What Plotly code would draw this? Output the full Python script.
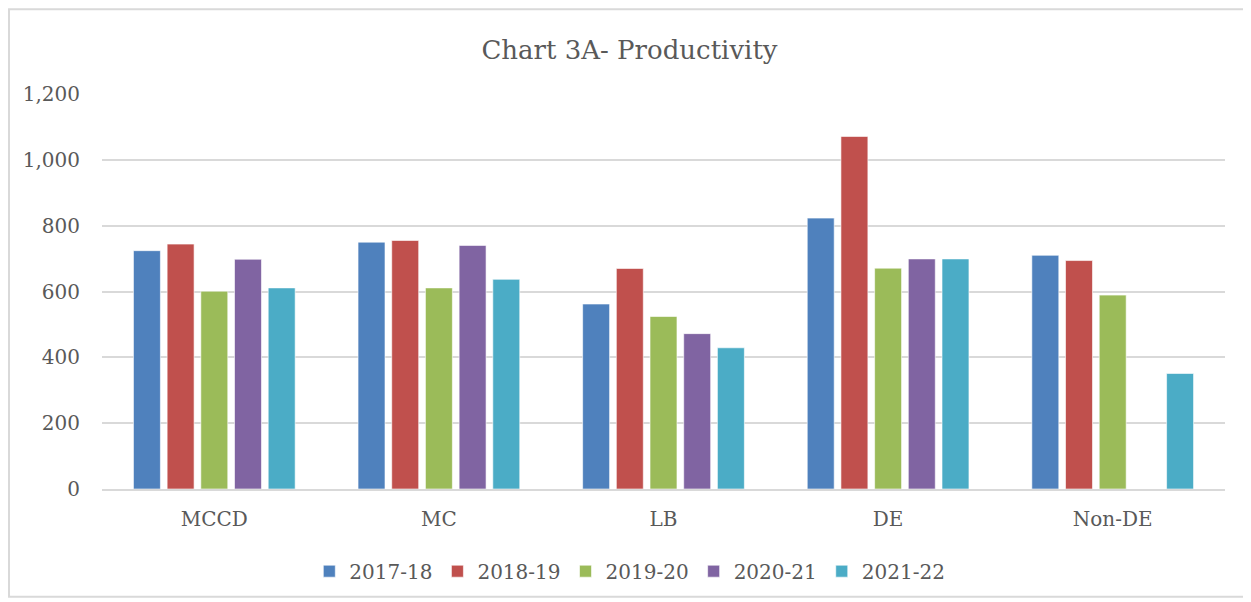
import plotly.graph_objs as go

categories = ['MCCD', 'MC', 'LB', 'DE', 'Non-DE']
years = ['2017-18', '2018-19', '2019-20', '2020-21', '2021-22']

v_2017_18 = [724, 750, 562, 823, 710]
v_2018_19 = [744, 755, 670, 1071, 694]
v_2019_20 = [601, 611, 524, 671, 589]
v_2020_21 = [698, 740, 472, 699, None]
v_2021_22 = [611, 637, 429, 699, 351]

series = [v_2017_18, v_2018_19, v_2019_20, v_2020_21, v_2021_22]
colors = ['#4F81BD', '#C0504D', '#9BBB59', '#8064A2', '#4BACC6']

grey = '#595959'
font_family = 'DejaVu Serif, Liberation Serif, serif'

fig = go.Figure()
for name, vals, col in zip(years, series, colors):
    fig.add_trace(go.Bar(
        x=categories,
        y=vals,
        name=name,
        marker=dict(color=col, line=dict(color='rgba(255,255,255,0.6)', width=1)),
    ))

# page body has an 8px margin, so the figure is 8px smaller than the window
fig.update_layout(
    width=1243,
    height=594,
    title=dict(text='Chart 3A- Productivity', x=0.5, xanchor='center',
               y=0.93, yanchor='middle',
               font=dict(family=font_family, size=26, color=grey)),
    paper_bgcolor='white',
    plot_bgcolor='white',
    font=dict(family=font_family, size=20, color=grey),
    barmode='group',
    bargap=0.25,
    bargroupgap=0.2,
    margin=dict(l=94, r=26, t=86, b=112),
    legend=dict(orientation='h', x=0.47, xanchor='center', y=-0.205, yanchor='middle',
                font=dict(size=20, color=grey), itemwidth=30, traceorder='normal'),
    yaxis=dict(range=[0, 1200], dtick=200, tickformat=',', showgrid=True,
               gridcolor='#D9D9D9', gridwidth=2, zeroline=False,
               showline=False, ticklabelstandoff=21),
    xaxis=dict(showline=True, linecolor='#D9D9D9', linewidth=2,
               ticklabelstandoff=11),
    shapes=[dict(type='rect', xref='paper', yref='paper',
                 x0=-0.0828, x1=1.0178, y0=-0.2727, y1=1.2145,
                 line=dict(color='#D9D9D9', width=2))],
)

fig.write_html('out.html')
